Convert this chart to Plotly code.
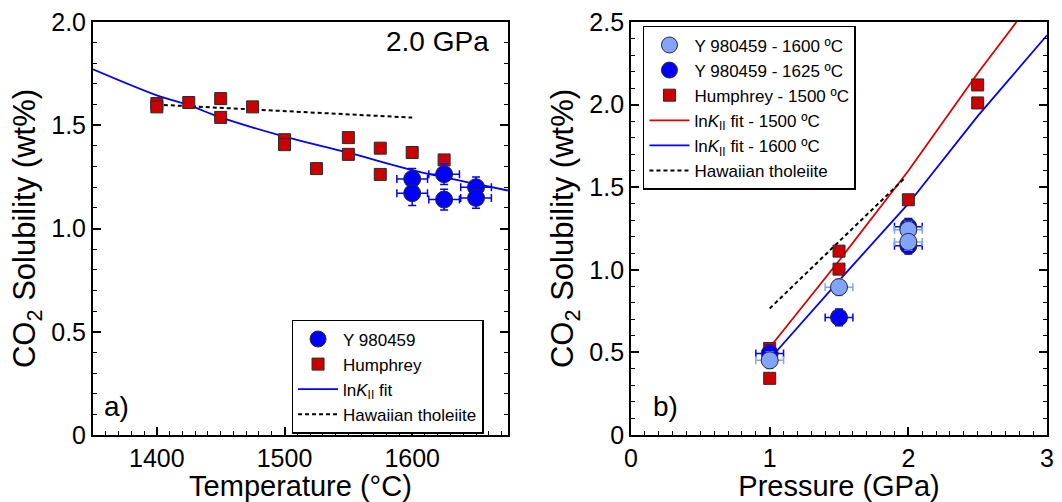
import plotly.graph_objects as go

# ---------------- data ----------------
# Panel a) 2.0 GPa, solubility vs temperature
hum_T = [1400, 1400, 1425, 1450, 1450, 1475, 1500, 1500, 1525, 1550, 1550, 1575, 1575, 1600, 1625]
hum_v = [1.605, 1.589, 1.61, 1.629, 1.538, 1.589, 1.43, 1.406, 1.29, 1.44, 1.359, 1.389, 1.262, 1.368, 1.332]
y98_T = [1600, 1600, 1625, 1625, 1650, 1650]
y98_v = [1.24, 1.171, 1.263, 1.14, 1.20, 1.148]
y98_Terr = [12, 12, 12, 12, 12, 12]
y98_verr = [0.05, 0.06, 0.05, 0.05, 0.05, 0.05]
fitA_T = [1350, 1400, 1425, 1450, 1500, 1550, 1600, 1650, 1675]
fitA_v = [1.771, 1.645, 1.597, 1.538, 1.445, 1.367, 1.283, 1.216, 1.184]
hawA_T = [1400, 1600]
hawA_v = [1.60, 1.537]

# Panel b) solubility vs pressure
humB_P = [1.0, 1.0, 1.5, 1.5, 2.0, 2.5, 2.5]
humB_v = [0.524, 0.343, 1.113, 1.004, 1.424, 2.119, 2.01]
y1600_P = [1.0, 1.5, 2.0, 2.0]
y1600_v = [0.452, 0.895, 1.242, 1.169]
y1625_P = [1.0, 1.5, 2.0, 2.0]
y1625_v = [0.494, 0.712, 1.26, 1.145]
P_err = [0.1, 0.1, 0.1, 0.1]
vB_err = [0.05, 0.05, 0.05, 0.05]
fit1500_P = [1.0, 1.5, 2.0, 2.5, 2.78]
fit1500_v = [0.53, 1.055, 1.60, 2.19, 2.5]
fit1600_P = [1.0, 1.5, 2.0, 2.5, 3.0]
fit1600_v = [0.46, 0.935, 1.40, 1.93, 2.42]
hawB_P = [1.0, 1.98]
hawB_v = [0.766, 1.56]

# tick labels
xA_ticks = [1400, 1500, 1600]
xA_text = ["1400", "1500", "1600"]
xA_mid = [1350, 1450, 1550, 1650]          # unlabelled long ticks
yA_ticks = [0, 0.5, 1.0, 1.5, 2.0]
yA_text = ["0", "0.5", "1.0", "1.5", "2.0"]
xB_ticks = [0, 1, 2, 3]
xB_text = ["0", "1", "2", "3"]
xB_mid = [0.5, 1.5, 2.5]                    # unlabelled long ticks
yB_ticks = [0, 0.5, 1.0, 1.5, 2.0, 2.5]
yB_text = ["0", "0.5", "1.0", "1.5", "2.0", "2.5"]

# ---------------- styles ----------------
BLUE = "#0000FF"
LIGHT = "#82A4FF"
RED = "#CC0000"
REDLINE = "#DD0000"
EDGE = "#2a2a2a"
FONT = "Liberation Sans, Arial, sans-serif"
LNK = "ln<i>K</i><sub>II</sub> fit"
DASH = "4px,3px"

fig = go.Figure()

# ---- panel a ----
fig.add_trace(go.Scatter(x=fitA_T, y=fitA_v, mode="lines", line=dict(color=BLUE, width=1.8, shape="spline"),
                         name=LNK, legend="legend", legendrank=3, xaxis="x", yaxis="y"))
fig.add_trace(go.Scatter(x=hawA_T, y=hawA_v, mode="lines", line=dict(color="black", width=2, dash=DASH),
                         name="Hawaiian tholeiite", legend="legend", legendrank=4, xaxis="x", yaxis="y"))
fig.add_trace(go.Scatter(x=hum_T, y=hum_v, mode="markers",
                         marker=dict(symbol="square", size=12, color=RED, line=dict(color=EDGE, width=1)),
                         name="Humphrey", legend="legend", legendrank=2, xaxis="x", yaxis="y"))
fig.add_trace(go.Scatter(x=y98_T, y=y98_v, mode="markers",
                         marker=dict(symbol="circle", size=17, color=BLUE, line=dict(color=EDGE, width=1)),
                         error_x=dict(type="data", array=y98_Terr, color=BLUE, thickness=1.5, width=4),
                         error_y=dict(type="data", array=y98_verr, color=BLUE, thickness=1.5, width=4),
                         name="Y 980459", legend="legend", legendrank=1, xaxis="x", yaxis="y"))

# ---- panel b ----
fig.add_trace(go.Scatter(x=fit1500_P, y=fit1500_v, mode="lines", line=dict(color=REDLINE, width=1.8),
                         name=LNK + " - 1500 ºC", legend="legend2", legendrank=4, xaxis="x2", yaxis="y2"))
fig.add_trace(go.Scatter(x=fit1600_P, y=fit1600_v, mode="lines", line=dict(color=BLUE, width=1.8),
                         name=LNK + " - 1600 ºC", legend="legend2", legendrank=5, xaxis="x2", yaxis="y2"))
fig.add_trace(go.Scatter(x=hawB_P, y=hawB_v, mode="lines", line=dict(color="black", width=2, dash=DASH),
                         name="Hawaiian tholeiite", legend="legend2", legendrank=6, xaxis="x2", yaxis="y2"))
fig.add_trace(go.Scatter(x=humB_P, y=humB_v, mode="markers",
                         marker=dict(symbol="square", size=12, color=RED, line=dict(color=EDGE, width=1)),
                         name="Humphrey - 1500 ºC", legend="legend2", legendrank=3, xaxis="x2", yaxis="y2"))
fig.add_trace(go.Scatter(x=y1625_P, y=y1625_v, mode="markers",
                         marker=dict(symbol="circle", size=17, color=BLUE, line=dict(color=EDGE, width=1)),
                         error_x=dict(type="data", array=P_err, color=BLUE, thickness=1.5, width=4),
                         error_y=dict(type="data", array=vB_err, color=BLUE, thickness=1.5, width=4),
                         name="Y 980459 - 1625 ºC", legend="legend2", legendrank=2, xaxis="x2", yaxis="y2"))
fig.add_trace(go.Scatter(x=y1600_P, y=y1600_v, mode="markers",
                         marker=dict(symbol="circle", size=17, color=LIGHT, line=dict(color=EDGE, width=1)),
                         error_x=dict(type="data", array=P_err, color=LIGHT, thickness=1.5, width=4),
                         error_y=dict(type="data", array=vB_err, color=LIGHT, thickness=1.5, width=4),
                         name="Y 980459 - 1600 ºC", legend="legend2", legendrank=1, xaxis="x2", yaxis="y2"))

W, H = 1062, 502
L, R, T, B = 93, 8, 17, 65
PW = W - L - R
PH = H - T - B

def dom(a, b):
    return [(a - L) / PW, (b - L) / PW]

def px(x):
    return (x - L) / PW

def py(y):
    return 1 - (y - T) / PH

tickfont = dict(family=FONT, size=25, color="black")
xtitlefont = dict(family=FONT, size=29, color="black")
ytitlefont = dict(family=FONT, size=31, color="black")
minor_common = dict(ticks="inside", ticklen=4, tickcolor="black", tickwidth=1)
common = dict(showgrid=False, zeroline=False, showline=True, linecolor="black", linewidth=2,
              ticks="inside", ticklen=8, tickwidth=1.5, tickcolor="black", tickfont=tickfont,
              tickmode="array", fixedrange=True)
overlay_common = dict(showgrid=False, zeroline=False, showline=False, ticks="inside", ticklen=8,
                      tickwidth=1.5, tickcolor="black", showticklabels=False, tickmode="array",
                      fixedrange=True, side="bottom")
legfont = dict(family=FONT, size=17, color="black")

fig.update_layout(
    width=W, height=H, autosize=False,
    margin=dict(l=L, r=R, t=T, b=B),
    paper_bgcolor="white", plot_bgcolor="white",
    font=dict(family=FONT, color="black"),
    xaxis=dict(domain=dom(93, 511), range=[1350, 1675], tickvals=xA_ticks, ticktext=xA_text,
               mirror=True, anchor="y",
               minor=dict(dtick=10, tick0=1350, **minor_common),
               title=dict(text="Temperature (°C)", font=xtitlefont, standoff=2), **common),
    xaxis3=dict(overlaying="x", anchor="y", range=[1350, 1675], tickvals=xA_mid, **overlay_common),
    yaxis=dict(domain=[0, 1], range=[0, 2.0], tickvals=yA_ticks, ticktext=yA_text, mirror="ticks", anchor="x",
               minor=dict(dtick=0.1, tick0=0, **minor_common),
               title=dict(text="CO<sub>2</sub> Solubility (wt%)", font=ytitlefont, standoff=6), **common),
    xaxis2=dict(domain=dom(635, 1054), range=[0, 3], tickvals=xB_ticks, ticktext=xB_text,
                mirror=True, anchor="y2",
                minor=dict(dtick=0.1, tick0=0, **minor_common),
                title=dict(text="Pressure (GPa)", font=xtitlefont, standoff=2), **common),
    xaxis4=dict(overlaying="x2", anchor="y2", range=[0, 3], tickvals=xB_mid, **overlay_common),
    yaxis2=dict(domain=[0, 1], range=[0, 2.5], tickvals=yB_ticks, ticktext=yB_text, mirror="ticks", anchor="x2",
                minor=dict(dtick=0.1, tick0=0, **minor_common),
                title=dict(text="CO<sub>2</sub> Solubility (wt%)", font=ytitlefont, standoff=6), **common),
    legend=dict(x=px(293), y=py(320), xanchor="left", yanchor="top",
                bgcolor="white", bordercolor="black", borderwidth=1.5,
                font=legfont, tracegroupgap=0, itemwidth=40),
    legend2=dict(x=px(647), y=py(21), xanchor="left", yanchor="top",
                 bgcolor="white", bordercolor="black", borderwidth=1.5,
                 font=legfont, tracegroupgap=0, itemwidth=40),
    showlegend=True,
    annotations=[
        dict(text="2.0 GPa", x=px(440), y=py(37), xref="paper", yref="paper", showarrow=False,
             font=dict(family=FONT, size=28, color="black"), xanchor="center", yanchor="middle"),
        dict(text="a)", x=px(117), y=py(408), xref="paper", yref="paper", showarrow=False,
             font=dict(family=FONT, size=28, color="black"), xanchor="center", yanchor="middle"),
        dict(text="b)", x=px(670), y=py(408), xref="paper", yref="paper", showarrow=False,
             font=dict(family=FONT, size=28, color="black"), xanchor="center", yanchor="middle"),
    ],
)

fig.write_html(
    "out.html",
    config={"displayModeBar": False, "responsive": False},
    post_script=("var h=document.documentElement, b=document.body;"
                 "[h,b].forEach(function(e){e.style.margin='0px';e.style.padding='0px';"
                 "e.style.overflow='hidden';e.style.width='1062px';e.style.height='502px';});"),
)
